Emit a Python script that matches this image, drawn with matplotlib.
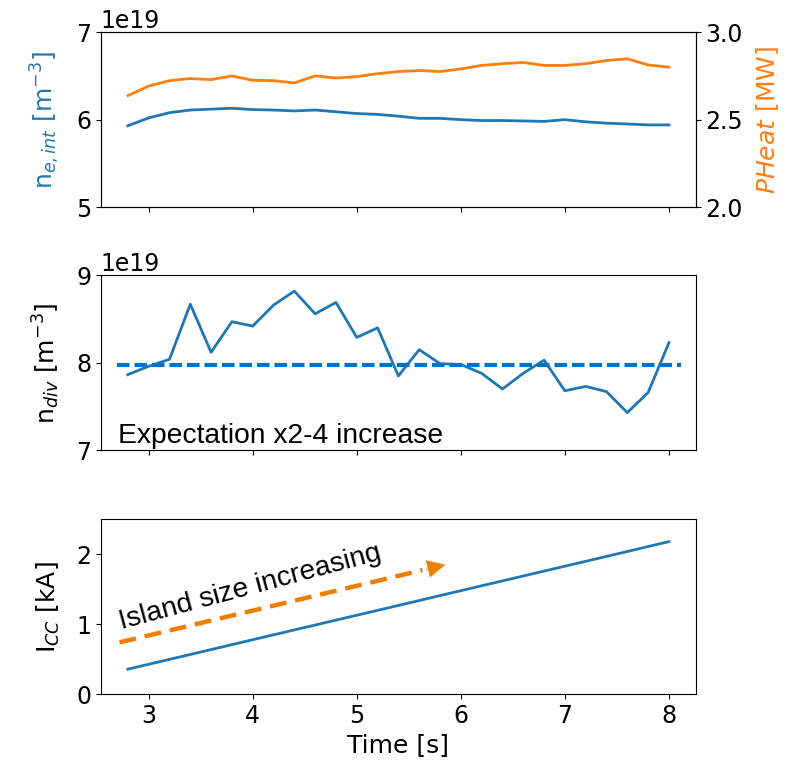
import matplotlib
matplotlib.use("Agg")
import matplotlib.pyplot as plt
import numpy as np

time_s = [2.8, 3.0, 3.2, 3.4, 3.6, 3.8, 4.0, 4.2, 4.4, 4.6, 4.8, 5.0, 5.2, 5.4,
          5.6, 5.8, 6.0, 6.2, 6.4, 6.6, 6.8, 7.0, 7.2, 7.4, 7.6, 7.8, 8.0]

# line-integrated density, units of 1e19 m^-3
ne_int = [5.93, 6.02, 6.08, 6.11, 6.12, 6.13, 6.115, 6.11, 6.10, 6.11, 6.09,
          6.07, 6.06, 6.04, 6.015, 6.015, 6.0, 5.99, 5.99, 5.985, 5.98, 6.0,
          5.975, 5.96, 5.95, 5.94, 5.94]

# heating power, MW
p_heat = [2.637, 2.692, 2.723, 2.735, 2.729, 2.75, 2.725, 2.723, 2.71, 2.75,
          2.738, 2.746, 2.763, 2.775, 2.781, 2.775, 2.79, 2.81, 2.82, 2.827,
          2.81, 2.81, 2.82, 2.838, 2.848, 2.813, 2.80]

# divertor density, units of 1e19 m^-3
n_div = [7.865, 7.96, 8.04, 8.67, 8.12, 8.47, 8.42, 8.66, 8.82, 8.56, 8.69,
         8.29, 8.40, 7.85, 8.15, 7.99, 7.98, 7.88, 7.70, 7.88, 8.03, 7.68,
         7.73, 7.67, 7.43, 7.66, 8.23]
n_div_ref = 7.98
n_div_ref_span = [2.7, 8.12]

# control coil current, kA
i_cc = [0.357, 0.427, 0.497, 0.567, 0.637, 0.708, 0.778, 0.848, 0.918,
        0.988, 1.058, 1.128, 1.198, 1.268, 1.338, 1.409, 1.479, 1.549,
        1.619, 1.689, 1.759, 1.829, 1.899, 1.969, 2.039, 2.110, 2.180]

# "island size increasing" arrow, (time, kA)
arrow_start = (2.72, 0.74)
arrow_tip = (5.85, 1.85)

TICK = 17
LABEL = 18
NOTE = 20.3
ORANGE = "#ee7d00"

plt.rcParams["font.family"] = "DejaVu Sans"
plt.rcParams["xtick.labelsize"] = TICK
plt.rcParams["ytick.labelsize"] = TICK

fig = plt.figure(figsize=(8.0, 7.67), dpi=100)
w = 0.744
ax1 = fig.add_axes([0.126, 0.730, w, 0.228])
ax2 = fig.add_axes([0.126, 0.413, w, 0.228], sharex=ax1)
ax3 = fig.add_axes([0.126, 0.095, w, 0.228], sharex=ax1)

# top: density and heating power
t = np.array(time_s)
ax1.plot(t, np.array(ne_int) * 1e19, color="C0", lw=2)
ax1.set_ylim(5e19, 7e19)
ax1.set_yticks([5e19, 6e19, 7e19])
ax1.set_ylabel(r"n$_{e,int}$ [m$^{-3}$]", color="C0", fontsize=LABEL,
               labelpad=10)
ax1r = ax1.twinx()
ax1r.plot(t, p_heat, color="C1", lw=2)
ax1r.set_ylim(2.0, 3.0)
ax1r.set_yticks([2.0, 2.5, 3.0])
ax1r.set_ylabel(r"$PHeat$ [MW]", color="C1", fontsize=LABEL, labelpad=8)
ax1.tick_params(labelbottom=False)

# middle: divertor density
ax2.plot(t, np.array(n_div) * 1e19, color="C0", lw=2)
ax2.plot(n_div_ref_span, [n_div_ref * 1e19] * 2, color="#0072c6", lw=3,
         dashes=(3.0, 1.2))
ax2.set_ylim(7e19, 9e19)
ax2.set_yticks([7e19, 8e19, 9e19])
ax2.set_ylabel(r"n$_{div}$ [m$^{-3}$]", fontsize=LABEL, labelpad=10)
ax2.tick_params(labelbottom=False)
ax2.text(2.71, 7.08e19, "Expectation x2-4 increase", fontsize=NOTE,
         family="Liberation Sans", va="baseline", ha="left")

# bottom: coil current
ax3.plot(t, i_cc, color="C0", lw=2)
ax3.set_ylim(0, 2.5)
ax3.set_yticks([0, 1, 2])
ax3.set_ylabel(r"I$_{CC}$ [kA]", fontsize=LABEL, labelpad=10)
ax3.set_xlabel("Time [s]", fontsize=LABEL)

dx = arrow_tip[0] - arrow_start[0]
dy = arrow_tip[1] - arrow_start[1]
ax3.plot([arrow_start[0], arrow_start[0] + 0.93 * dx],
         [arrow_start[1], arrow_start[1] + 0.93 * dy],
         color=ORANGE, lw=3.2, dashes=(3.8, 2.0), solid_capstyle="butt")
ax3.annotate("", xy=arrow_tip,
             xytext=(arrow_start[0] + 0.94 * dx, arrow_start[1] + 0.94 * dy),
             arrowprops=dict(arrowstyle="-|>", lw=0.5, color=ORANGE,
                             mutation_scale=30, shrinkA=0, shrinkB=0))
ax3.text(2.74, 0.93, "Island size increasing", fontsize=NOTE,
         family="Liberation Sans", rotation=15, rotation_mode="anchor",
         va="baseline", ha="left")

ax1.set_xlim(2.54, 8.26)

for ax in (ax1, ax1r, ax2, ax3):
    ax.yaxis.get_offset_text().set_fontsize(TICK)

fig.savefig("out.png", dpi=100)
